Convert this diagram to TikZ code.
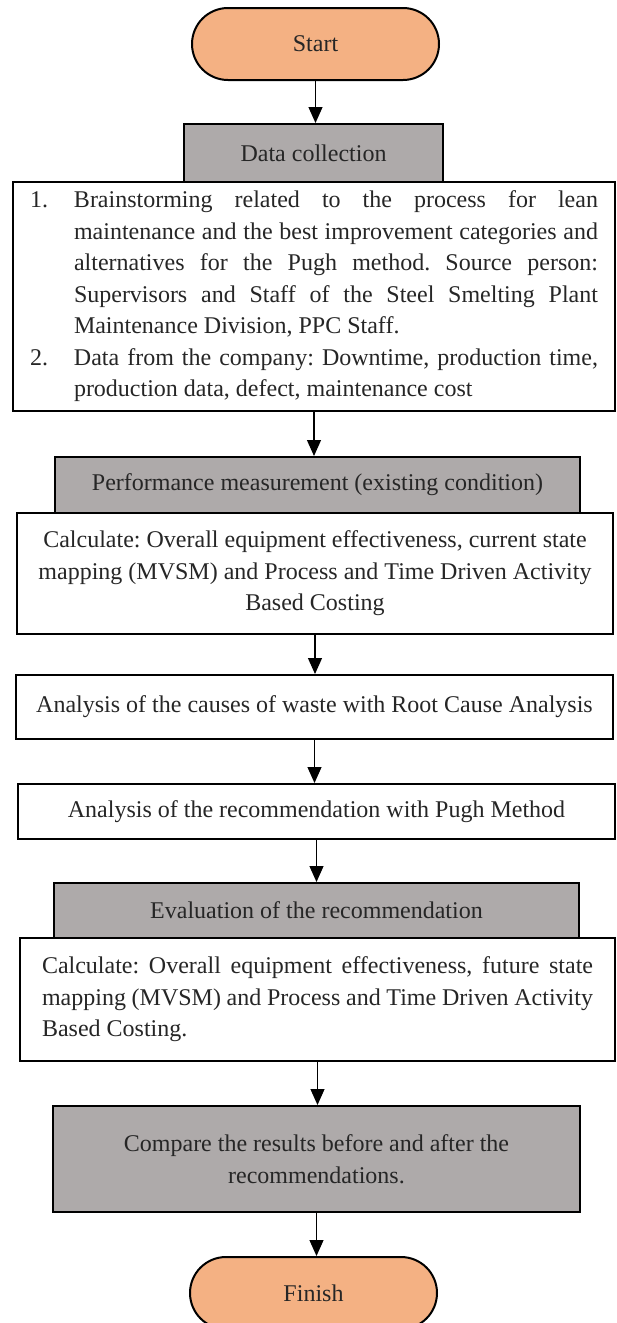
\documentclass[tikz,border=0pt]{standalone}
\usepackage{fontspec}
\setmainfont{Liberation Serif}
\usetikzlibrary{arrows.meta}
\definecolor{termfill}{HTML}{F4B183}
\definecolor{headfill}{HTML}{AEAAAA}
\definecolor{ink}{HTML}{262626}
\frenchspacing
\begin{document}
\begin{tikzpicture}[x=0.5pt,y=-0.5pt,
  txt/.style={font=\fontsize{12}{15.75}\selectfont, text=ink},
  frame/.style={txt, draw=black, line width=1pt, inner sep=0pt, align=center},
  terminal/.style={frame, fill=termfill, rounded corners=18pt, minimum width=123.5pt, minimum height=36pt},
  head/.style={frame, fill=headfill},
  plain/.style={frame, fill=white},
  arr/.style={line width=0.6pt, -{Triangle[length=8pt,width=7pt]}}]
\useasboundingbox (0,0) rectangle (616,1323);

% terminals
\node[terminal] (start) at (315.5,44) {Start};
\node[terminal] (finish) at (313.5,1293) {Finish};

% data collection
\node[plain, minimum width=301pt, minimum height=114.5pt, text width=284pt, align=justify] (big) at (314,296.5)
 {\hangindent=22pt\hangafter=1\noindent\makebox[22pt][l]{1.}Brainstorming related to the process for lean\linebreak
  maintenance and the best improvement categories and\linebreak
  alternatives for the Pugh method. Source person:\linebreak
  Supervisors and Staff of the Steel Smelting Plant\linebreak
  Maintenance Division, PPC Staff.\par
  \hangindent=22pt\hangafter=1\noindent\makebox[22pt][l]{2.}Data from the company: Downtime, production time,\linebreak
  production data, defect, maintenance cost\par};
\node[head, minimum width=129.5pt, minimum height=29pt] (dc) at (313.5,153) {Data collection};

% existing condition
\node[plain, minimum width=298pt, minimum height=60.5pt] (calc1) at (315,573.5)
 {Calculate: Overall equipment effectiveness, current state\\
  mapping (MVSM) and Process and Time Driven Activity\\
  Based Costing};
\node[head, minimum width=262.5pt, minimum height=28pt] (perf) at (317.5,485)
 {Performance measurement (existing condition)};

% analyses
\node[plain, minimum width=298.5pt, minimum height=32pt] (cause) at (314.5,707)
 {Analysis of the causes of waste with Root Cause Analysis};
\node[plain, minimum width=298.5pt, minimum height=27.5pt] (rec) at (316.5,811.5)
 {Analysis of the recommendation with Pugh Method};

% evaluation
\node[plain, minimum width=297.5pt, minimum height=61.5pt, text width=275.5pt, align=justify] (calc2) at (317.5,999.5)
 {Calculate: Overall equipment effectiveness, future state\linebreak
  mapping (MVSM) and Process and Time Driven Activity\linebreak
  Based Costing.\par};
\node[head, minimum width=262.5pt, minimum height=27.5pt] (eval) at (316.5,910.5)
 {Evaluation of the recommendation};

\node[head, minimum width=263.5pt, minimum height=53pt] (cmp) at (316.5,1159)
 {Compare the results before and after the\\ recommendations.};

% connectors
\draw[arr] (start.south) -- (start.south |- dc.north);
\draw[arr] (big.south) -- (big.south |- perf.north);
\draw[arr] (calc1.south) -- (calc1.south |- cause.north);
\draw[arr] (cause.south) -- (cause.south |- rec.north);
\draw[arr] (rec.south) -- (rec.south |- eval.north);
\draw[arr] (calc2.south) -- (calc2.south |- cmp.north);
\draw[arr] (cmp.south) -- (cmp.south |- finish.north);
\end{tikzpicture}
\end{document}
